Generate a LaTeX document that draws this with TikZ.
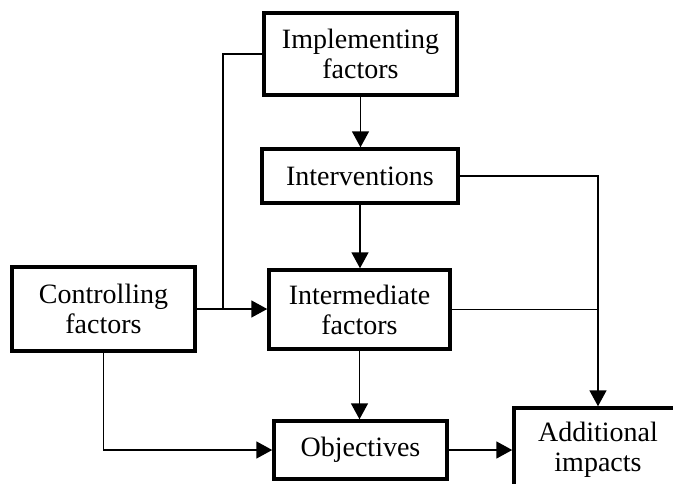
\documentclass[tikz,border=0pt]{standalone}
\usepackage{fontspec}
\setmainfont{Liberation Serif}
\usepackage{tikz}
\usetikzlibrary{arrows.meta, positioning}

\begin{document}
\begin{tikzpicture}[x=1pt, y=-1pt,
    factorbox/.style={draw, line width=3.5pt, align=center, inner sep=0pt,
        font=\fontsize{28}{30}\selectfont},
    link/.style={line width=1.7pt},
    arrowlink/.style={link, -{Triangle[length=16pt, width=17pt]}}]
\useasboundingbox (0,0) rectangle (673,483);

% Draw factor boxes
\node[factorbox, minimum width=193, minimum height=82] (impl) at (360.5,54) {Implementing\\factors};
\node[factorbox, minimum width=196, minimum height=54] (interv) at (360,176) {Interventions};
\node[factorbox, minimum width=181, minimum height=79] (inter) at (359.5,309.5) {Intermediate\\factors};
\node[factorbox, minimum width=183, minimum height=84] (ctrl) at (103.5,309) {Controlling\\factors};
\node[factorbox, minimum width=173, minimum height=58] (obj) at (360.5,450) {Objectives};
\node[factorbox, minimum width=168, minimum height=84] (add) at (598,450) {Additional\\impacts};

% Draw main chain
\foreach \from/\to in {impl/interv, interv/inter, inter/obj} {
    \draw[arrowlink] (\from.south) -- (\from.south |- \to.north);
}

% Controlling factors links
\coordinate (join) at (223,309);
\draw[link] (impl.west) -| (join);
\draw[arrowlink] (ctrl.east) -- (ctrl.east -| inter.west);
\draw[arrowlink] (ctrl.south) |- (obj.west);

% Links to additional impacts
\draw[arrowlink] (interv.east) -| (add.north);
\draw[link] (inter.east) -- (inter.east -| add.north);
\draw[arrowlink] (obj.east) -- (add.west);
\end{tikzpicture}
\end{document}
